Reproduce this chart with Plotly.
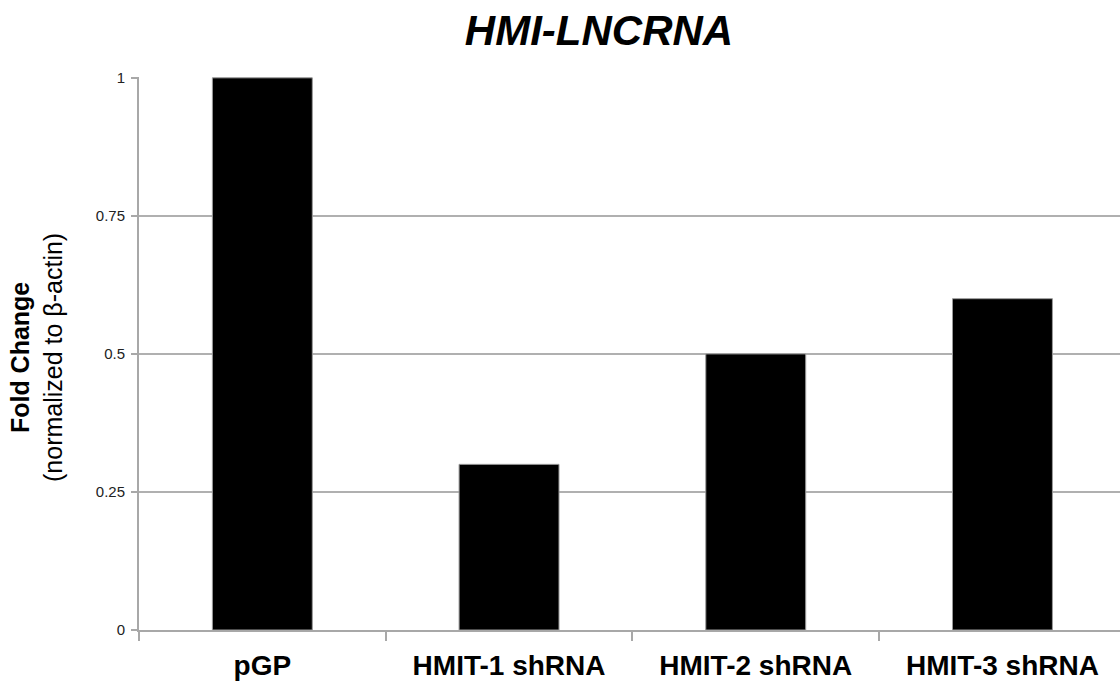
import plotly.graph_objects as go

categories = ["pGP", "HMIT-1 shRNA", "HMIT-2 shRNA", "HMIT-3 shRNA"]
fold_change = [1.0, 0.30, 0.50, 0.60]
y_ticks = [0, 0.25, 0.5, 0.75, 1]
y_tick_labels = ["0", "0.25", "0.5", "0.75", "1"]

FONT = "Arial, Liberation Sans, Helvetica, sans-serif"

fig = go.Figure()
fig.add_trace(go.Bar(
    x=categories,
    y=fold_change,
    width=0.405,
    marker=dict(color="black", line=dict(color="#9a9a9a", width=1)),
))

L, T, B = 139, 77, 53
W, H = 1120, 683
plot_w = W - L
unit = 246.7
xmax = -0.5 + plot_w / unit

fig.update_layout(
    width=W, height=H,
    margin=dict(l=L, r=0, t=T, b=B),
    plot_bgcolor="white", paper_bgcolor="white",
    showlegend=False,
    font=dict(family=FONT, color="black"),
    title=dict(
        text="<b><i>HMI-LNCRNA</i></b>",
        font=dict(family=FONT, size=42, color="black"),
        x=(599) / W, xanchor="center",
        y=1 - 30 / H, yanchor="middle",
    ),
    xaxis=dict(
        range=[-0.5, xmax],
        showline=True, linecolor="#a8a8a8", linewidth=2,
        ticks="outside", tickson="boundaries", ticklen=9,
        tickcolor="#a8a8a8", tickwidth=2,
        tickfont=dict(family=FONT, size=28, color="black"),
        tickprefix="<b>", ticksuffix="</b>",
        ticklabelstandoff=9,
        showgrid=False,
    ),
    yaxis=dict(
        range=[0, 1.0015],
        tickvals=y_ticks, ticktext=y_tick_labels,
        showline=True, linecolor="#a8a8a8", linewidth=2,
        ticks="outside", ticklen=6, tickcolor="#a8a8a8", tickwidth=2,
        tickfont=dict(family=FONT, size=15, color="#222"),
        ticklabelstandoff=3,
        showgrid=True, gridcolor="#b0b0b0", gridwidth=2,
        zeroline=False,
    ),
)

fig.add_annotation(
    text="<b>Fold Change</b><br>(normalized to β-actin)",
    xref="paper", yref="paper",
    x=(36 - L) / plot_w, y=1 - (358 - T) / (H - T - B),
    xanchor="center", yanchor="middle",
    textangle=-90, showarrow=False,
    font=dict(family=FONT, size=25, color="black"),
)

fig.write_html(
    "out.html",
    config={"displayModeBar": False},
    post_script="document.body.style.margin='0px';document.body.style.overflow='hidden';",
)
